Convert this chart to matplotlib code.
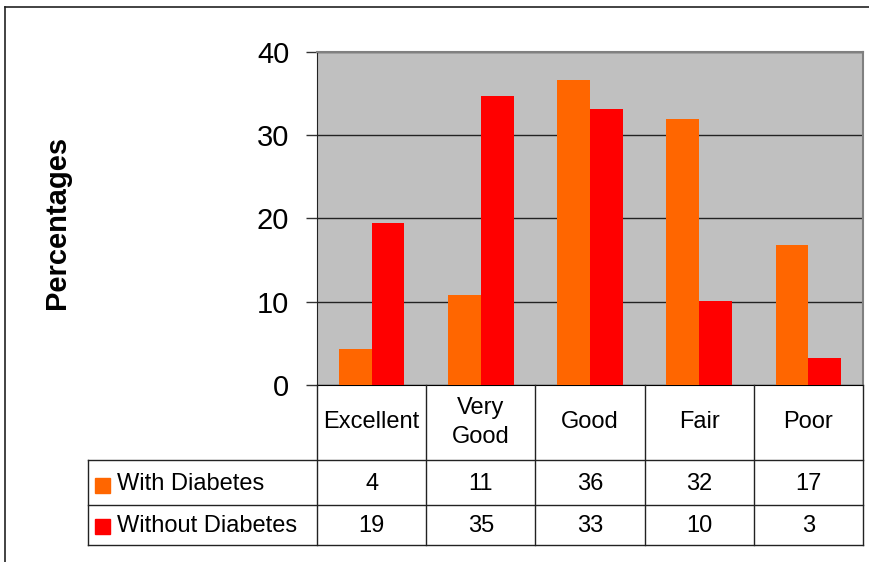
import matplotlib
matplotlib.use("Agg")
import matplotlib.pyplot as plt
from matplotlib.lines import Line2D
from matplotlib.patches import Rectangle

plt.rcParams['font.family'] = ['Liberation Sans', 'DejaVu Sans']

# Data
categories = ['Excellent', 'Very\nGood', 'Good', 'Fair', 'Poor']
series_names = ['With Diabetes', 'Without Diabetes']
with_diabetes = [4.3, 10.8, 36.6, 32.0, 16.8]
without_diabetes = [19.5, 34.7, 33.2, 10.1, 3.3]
table_with = [4, 11, 36, 32, 17]
table_without = [19, 35, 33, 10, 3]
colors = ['#FF6600', '#FF0000']

W, H = 870, 562
fig = plt.figure(figsize=(W / 100, H / 100), dpi=100)

# plot area in pixels
px0, px1, py0, py1 = 317, 863, 52, 385
ax = fig.add_axes([px0 / W, 1 - py1 / H, (px1 - px0) / W, (py1 - py0) / H])
ax.set_facecolor('#C0C0C0')

x = list(range(len(categories)))
bw = 0.3
ax.bar([i - bw / 2 for i in x], with_diabetes, bw, color=colors[0], zorder=3)
ax.bar([i + bw / 2 for i in x], without_diabetes, bw, color=colors[1], zorder=3)

ax.set_xlim(-0.5, len(categories) - 0.5)
ax.set_ylim(0, 40)
ax.set_yticks([0, 10, 20, 30, 40])
ax.tick_params(axis='y', labelsize=21, length=8, width=1, pad=12, color='#333333')
ax.set_xticks([])
ax.grid(axis='y', color='#222222', linewidth=1, zorder=0)
ax.spines['left'].set_color('#222222')
ax.spines['bottom'].set_color('#000000')
ax.spines['top'].set_color('#808080')
ax.spines['right'].set_color('#808080')
ax.spines['top'].set_linewidth(1.5)
ax.spines['right'].set_linewidth(1.5)

fig.text(57 / W, 1 - 222 / H, 'Percentages', rotation=90, fontsize=21,
         fontweight='bold', ha='center', va='center')

# data table drawn below the plot area
tx0, ty0, ty1, ty2, ty3 = 88, 385, 460, 505, 545
cw = (px1 - px0) / len(categories)
fs = 17


def fx(p):
    return p / W


def fy(p):
    return 1 - p / H


def hline(xa, xb, y):
    fig.add_artist(Line2D([fx(xa), fx(xb)], [fy(y), fy(y)], color='#222222', lw=1))


def vline(xv, ya, yb):
    fig.add_artist(Line2D([fx(xv), fx(xv)], [fy(ya), fy(yb)], color='#222222', lw=1))


hline(tx0, px1, ty1)
hline(tx0, px1, ty2)
hline(tx0, px1, ty3)
vline(tx0, ty1, ty3)
for i in range(len(categories) + 1):
    vline(px0 + i * cw, ty0, ty3)

for i, cat in enumerate(categories):
    cx = px0 + (i + 0.5) * cw
    fig.text(fx(cx), fy((ty0 + ty1) / 2), cat, fontsize=fs, ha='center',
             va='center', linespacing=1.45)
    fig.text(fx(cx), fy((ty1 + ty2) / 2 + 2), str(table_with[i]), fontsize=fs,
             ha='center', va='center')
    fig.text(fx(cx), fy((ty2 + ty3) / 2 + 1), str(table_without[i]), fontsize=fs,
             ha='center', va='center')

for k, (name, yc) in enumerate(zip(series_names, [(ty1 + ty2) / 2 + 2, (ty2 + ty3) / 2 + 1])):
    fig.add_artist(Rectangle((fx(95), fy(yc + 8)), 15 / W, 15 / H, color=colors[k],
                             transform=fig.transFigure))
    fig.text(fx(117), fy(yc), name, fontsize=fs, ha='left', va='center')

# outer frame
fig.add_artist(Line2D([fx(5), fx(W)], [fy(7), fy(7)], color='#222222', lw=1.2))
fig.add_artist(Line2D([fx(5), fx(5)], [fy(7), fy(H)], color='#222222', lw=1.2))

fig.savefig('out.png', dpi=100)
